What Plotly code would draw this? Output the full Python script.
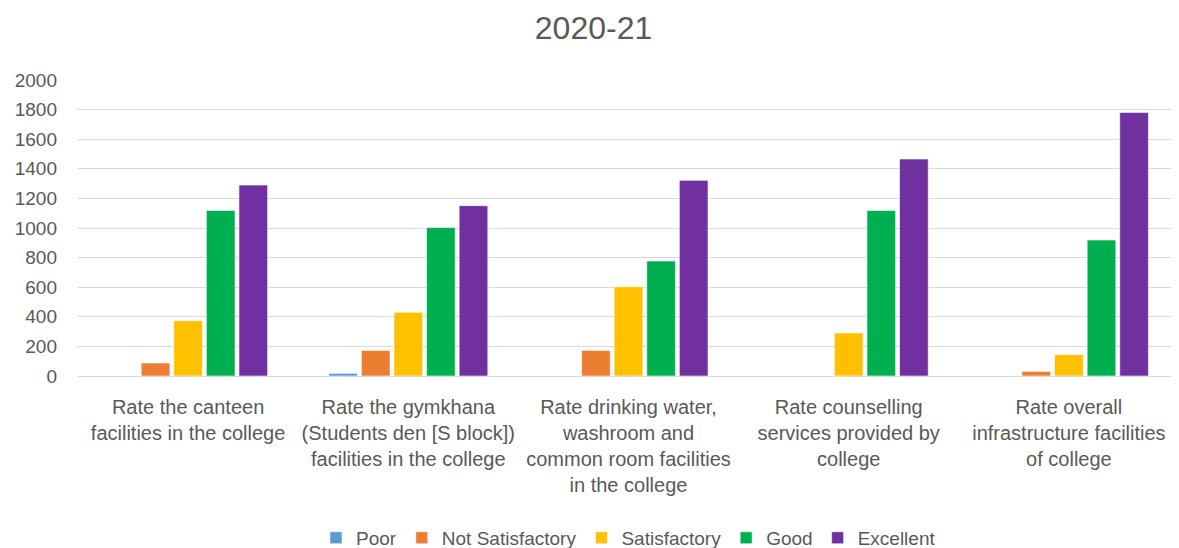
import plotly.graph_objects as go

categories = [
    "Rate the canteen<br>facilities in the college",
    "Rate the gymkhana<br>(Students den [S block])<br>facilities in the college",
    "Rate drinking water,<br>washroom and<br>common room facilities<br>in the college",
    "Rate counselling<br>services provided by<br>college",
    "Rate overall<br>infrastructure facilities<br>of college",
]

poor = [0, 18, 0, 0, 0]
not_satisfactory = [88, 173, 173, 0, 31]
satisfactory = [374, 430, 603, 291, 144]
good = [1119, 1004, 777, 1119, 919]
excellent = [1290, 1151, 1322, 1466, 1781]

series = [
    ("Poor", poor, "#5B9BD5"),
    ("Not Satisfactory", not_satisfactory, "#ED7D31"),
    ("Satisfactory", satisfactory, "#FFC000"),
    ("Good", good, "#00B050"),
    ("Excellent", excellent, "#7030A0"),
]

fig = go.Figure()
for name, vals, color in series:
    fig.add_trace(go.Bar(
        x=categories, y=vals, name=name,
        marker=dict(color=color, line=dict(color="white", width=0.6)),
    ))

# page body has an 8px margin, so the figure is sized to fit inside the window
fig.update_layout(
    width=1171, height=540,
    paper_bgcolor="white", plot_bgcolor="white",
    font=dict(family="Liberation Sans, Arial, sans-serif", color="#595959"),
    title=dict(text="2020-21", x=0.5, xanchor="center", y=0.963, yanchor="middle",
               font=dict(size=32, color="#595959")),
    barmode="group", bargap=0.26, bargroupgap=0.12,
    margin=dict(l=70, r=0, t=72, b=172, autoexpand=False),
    legend=dict(orientation="h", x=0.5, xanchor="center", y=-0.547, yanchor="middle",
                font=dict(size=19, color="#595959"), itemwidth=30,
                traceorder="normal"),
    xaxis=dict(showgrid=False, showline=False, ticks="", automargin=False,
               tickfont=dict(size=20, color="#595959"), ticklabelstandoff=17),
    yaxis=dict(range=[0, 2000], dtick=200, showgrid=True, gridcolor="#D9D9D9",
               gridwidth=1, zeroline=True, zerolinecolor="#D9D9D9", zerolinewidth=1,
               automargin=False,
               tickfont=dict(size=19, color="#595959"), ticklabelstandoff=20),
)

fig.write_html("out.html")
